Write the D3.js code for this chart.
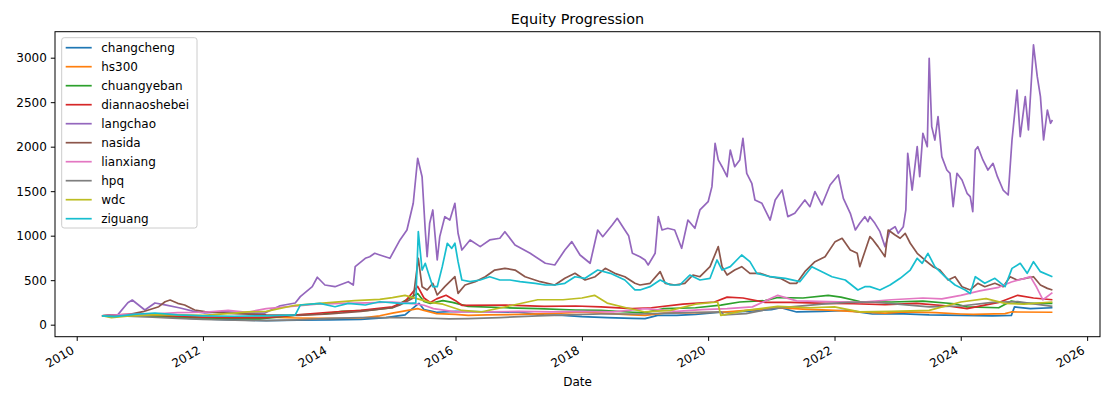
<!DOCTYPE html>
<html lang="en">
<head>
  <meta charset="utf-8">
  <title>Equity Progression</title>
  <script src="https://cdn.jsdelivr.net/npm/d3@7/dist/d3.min.js"></script>
  <style>
    body { margin: 0; background: #fff; }
    text { font-family: "DejaVu Sans", sans-serif; fill: #000; }
  </style>
</head>
<body>
<div id="chart"></div>
<script>
// series order as in the legend
const names = ["changcheng", "hs300", "chuangyeban", "diannaoshebei", "langchao",
               "nasida", "lianxiang", "hpq", "wdc", "ziguang"];
const colors = ["#1f77b4", "#ff7f0e", "#2ca02c", "#d62728", "#9467bd",
                "#8c564b", "#e377c2", "#7f7f7f", "#bcbd22", "#17becf"];
const yTicks = [0, 500, 1000, 1500, 2000, 2500, 3000];

// [decimal year, equity]
const changcheng = [[2010.40,100],[2010.6,95],[2010.9,100],[2011.2,95],[2011.5,85],[2011.8,70],[2012.0,65],[2012.5,55],[2013.0,45],[2013.5,50],[2014.0,55],[2014.5,60],[2014.9,80],[2015.2,110],[2015.35,200],[2015.42,240],[2015.5,170],[2015.7,140],[2016.0,150],[2016.5,143],[2017.0,140],[2017.4,110],[2017.7,105],[2018.0,90],[2018.4,80],[2018.8,72],[2019.0,68],[2019.2,105],[2019.5,105],[2019.8,115],[2020.2,140],[2020.6,150],[2021.0,170],[2021.15,190],[2021.4,143],[2021.8,150],[2022.2,160],[2022.6,120],[2023.0,125],[2023.5,110],[2024.0,105],[2024.5,100],[2024.8,105],[2024.85,200],[2025.1,180],[2025.45,190]];
const hs300 = [[2010.40,100],[2010.8,110],[2011.2,105],[2011.6,90],[2012.0,80],[2012.5,78],[2013.0,85],[2013.5,75],[2014.0,72],[2014.5,75],[2014.8,100],[2015.0,130],[2015.4,180],[2015.5,160],[2015.7,125],[2016.0,115],[2016.2,105],[2016.5,110],[2017.0,115],[2017.5,125],[2018.0,140],[2018.3,130],[2018.8,110],[2019.0,105],[2019.3,130],[2019.8,135],[2020.2,140],[2020.6,160],[2021.1,190],[2021.5,175],[2022.0,160],[2022.4,145],[2022.8,130],[2023.1,145],[2023.6,135],[2024.0,120],[2024.2,115],[2024.7,125],[2024.8,143],[2025.45,140]];
const chuangyeban = [[2010.40,100],[2010.8,110],[2011.2,95],[2011.6,85],[2012.0,75],[2012.5,70],[2012.9,65],[2013.5,110],[2013.9,120],[2014.2,150],[2014.6,160],[2015.0,190],[2015.4,350],[2015.5,260],[2015.6,240],[2015.8,270],[2015.95,250],[2016.2,205],[2016.8,190],[2017.3,180],[2017.9,165],[2018.3,160],[2018.8,140],[2019.0,135],[2019.3,180],[2019.8,190],[2020.2,220],[2020.5,255],[2020.9,270],[2021.1,305],[2021.5,300],[2021.9,330],[2022.1,310],[2022.4,260],[2022.9,255],[2023.4,265],[2023.9,235],[2024.1,200],[2024.6,190],[2024.8,265],[2025.0,240],[2025.45,240]];
const diannaoshebei = [[2010.40,100],[2010.8,115],[2011.2,110],[2011.6,95],[2012.0,85],[2012.5,80],[2013.0,80],[2013.5,110],[2014.0,140],[2014.5,160],[2015.0,200],[2015.2,260],[2015.4,430],[2015.5,300],[2015.6,250],[2015.7,290],[2015.85,330],[2016.0,270],[2016.1,218],[2016.8,220],[2017.4,205],[2017.9,210],[2018.3,200],[2018.8,180],[2019.1,190],[2019.6,230],[2020.1,255],[2020.3,310],[2020.55,300],[2020.9,250],[2021.3,250],[2021.9,240],[2022.3,235],[2022.8,225],[2023.3,240],[2023.8,210],[2024.1,180],[2024.6,250],[2024.9,330],[2025.15,300],[2025.45,280]];
const langchao = [[2010.40,100],[2010.65,110],[2010.81,247],[2010.88,277],[2011.08,165],[2011.24,244],[2011.40,222],[2011.64,187],[2011.87,146],[2012.03,131],[2012.35,146],[2012.67,131],[2012.98,131],[2013.22,213],[2013.46,244],[2013.54,315],[2013.73,427],[2013.81,533],[2013.93,446],[2014.09,427],[2014.30,483],[2014.38,446],[2014.41,652],[2014.57,746],[2014.64,764],[2014.72,802],[2014.80,783],[2014.96,746],[2015.12,952],[2015.23,1064],[2015.33,1364],[2015.40,1870],[2015.47,1663],[2015.52,1064],[2015.55,764],[2015.59,1139],[2015.64,1289],[2015.71,727],[2015.75,989],[2015.83,1213],[2015.91,1176],[2015.99,1364],[2016.04,1027],[2016.10,839],[2016.23,952],[2016.39,877],[2016.54,952],[2016.70,971],[2016.78,1045],[2016.94,896],[2017.18,802],[2017.42,690],[2017.57,671],[2017.73,839],[2017.84,933],[2017.97,783],[2018.13,690],[2018.25,1064],[2018.33,989],[2018.48,1120],[2018.56,1195],[2018.68,1064],[2018.74,1000],[2018.80,802],[2018.92,764],[2019.00,727],[2019.05,671],[2019.16,802],[2019.21,1214],[2019.27,1064],[2019.36,1083],[2019.47,1064],[2019.58,858],[2019.68,1176],[2019.79,1083],[2019.87,1289],[2020.00,1382],[2020.06,1551],[2020.11,2038],[2020.16,1851],[2020.22,1775],[2020.30,1663],[2020.35,1963],[2020.42,1775],[2020.50,1851],[2020.55,2094],[2020.61,1701],[2020.69,1589],[2020.74,1401],[2020.85,1364],[2020.98,1176],[2021.06,1401],[2021.17,1513],[2021.26,1214],[2021.37,1251],[2021.53,1401],[2021.61,1326],[2021.69,1495],[2021.80,1345],[2021.93,1570],[2022.06,1682],[2022.14,1420],[2022.25,1251],[2022.33,1064],[2022.40,1139],[2022.48,1214],[2022.53,1157],[2022.56,1214],[2022.64,1139],[2022.72,1045],[2022.80,877],[2022.88,1064],[2022.96,1101],[2023.01,1027],[2023.09,1101],[2023.13,1289],[2023.16,1926],[2023.23,1513],[2023.31,2000],[2023.35,1663],[2023.40,2150],[2023.47,2000],[2023.50,2993],[2023.54,2225],[2023.59,2075],[2023.64,2337],[2023.70,1888],[2023.78,1738],[2023.83,1701],[2023.88,1326],[2023.94,1701],[2024.02,1626],[2024.10,1476],[2024.15,1438],[2024.19,1270],[2024.23,1963],[2024.27,2000],[2024.35,1851],[2024.43,1738],[2024.51,1813],[2024.58,1663],[2024.67,1513],[2024.75,1457],[2024.81,2075],[2024.89,2637],[2024.94,2113],[2025.02,2562],[2025.07,2188],[2025.15,3143],[2025.21,2787],[2025.26,2562],[2025.31,2075],[2025.37,2412],[2025.42,2263],[2025.45,2300]];
const nasida = [[2010.40,100],[2010.8,110],[2011.05,146],[2011.3,202],[2011.4,258],[2011.48,277],[2011.6,240],[2011.71,221],[2011.87,165],[2012.03,146],[2012.5,125],[2013.0,110],[2013.5,105],[2014.0,120],[2014.5,150],[2015.0,190],[2015.12,221],[2015.33,300],[2015.41,746],[2015.47,427],[2015.55,390],[2015.64,465],[2015.71,334],[2015.83,427],[2015.99,539],[2016.04,352],[2016.15,446],[2016.31,483],[2016.47,539],[2016.62,614],[2016.78,633],[2016.94,614],[2017.10,539],[2017.34,483],[2017.57,446],[2017.73,521],[2017.89,577],[2018.05,502],[2018.21,539],[2018.37,633],[2018.52,577],[2018.68,539],[2018.84,465],[2018.92,446],[2019.08,465],[2019.24,596],[2019.32,465],[2019.47,446],[2019.63,465],[2019.76,558],[2019.87,539],[2020.03,652],[2020.16,877],[2020.22,652],[2020.30,558],[2020.42,614],[2020.53,652],[2020.66,577],[2020.82,577],[2020.98,539],[2021.14,521],[2021.29,465],[2021.40,465],[2021.53,596],[2021.69,708],[2021.85,764],[2022.01,933],[2022.12,971],[2022.25,839],[2022.36,802],[2022.40,652],[2022.48,820],[2022.56,989],[2022.61,952],[2022.69,877],[2022.80,764],[2022.85,1064],[2022.96,1008],[2023.04,971],[2023.12,1027],[2023.20,915],[2023.31,802],[2023.43,727],[2023.56,652],[2023.67,614],[2023.80,502],[2023.91,539],[2024.02,427],[2024.15,390],[2024.27,465],[2024.38,427],[2024.54,465],[2024.67,427],[2024.78,539],[2024.89,502],[2025.02,521],[2025.15,539],[2025.26,446],[2025.37,408],[2025.45,390]];
const lianxiang = [[2010.40,100],[2010.8,115],[2011.2,120],[2011.6,135],[2012.0,140],[2012.4,160],[2012.7,140],[2013.0,180],[2013.4,205],[2013.8,230],[2014.2,240],[2014.6,245],[2015.0,255],[2015.3,240],[2015.5,218],[2015.65,180],[2016.0,143],[2016.5,143],[2017.0,150],[2017.5,145],[2018.0,150],[2018.5,145],[2019.0,180],[2019.5,150],[2019.9,170],[2020.3,180],[2020.7,200],[2021.1,330],[2021.4,268],[2021.9,260],[2022.4,250],[2022.9,280],[2023.4,300],[2023.7,290],[2024.0,330],[2024.3,380],[2024.6,420],[2024.8,480],[2025.0,518],[2025.1,540],[2025.2,420],[2025.3,280],[2025.45,360]];
const hpq = [[2010.40,100],[2010.8,95],[2011.2,85],[2011.6,70],[2012.0,60],[2012.5,50],[2013.0,45],[2013.5,55],[2014.0,70],[2014.5,80],[2015.0,80],[2015.5,75],[2015.9,65],[2016.2,68],[2016.7,80],[2017.3,100],[2017.8,110],[2018.3,120],[2018.9,120],[2019.4,130],[2019.9,140],[2020.2,145],[2020.25,110],[2020.6,125],[2021.0,180],[2021.4,205],[2021.8,230],[2022.2,250],[2022.6,255],[2023.0,230],[2023.5,200],[2024.0,210],[2024.5,250],[2024.9,260],[2025.1,240],[2025.45,205]];
const wdc = [[2010.40,100],[2010.55,80],[2010.8,95],[2011.2,110],[2011.6,110],[2012.0,105],[2012.5,130],[2012.7,143],[2013.0,150],[2013.46,218],[2013.9,243],[2014.4,270],[2014.8,285],[2015.0,305],[2015.2,330],[2015.4,290],[2015.6,250],[2015.8,230],[2016.1,160],[2016.4,143],[2016.9,218],[2017.3,280],[2017.7,280],[2018.0,300],[2018.2,330],[2018.4,243],[2018.7,190],[2019.0,143],[2019.4,160],[2019.8,230],[2020.15,255],[2020.2,105],[2020.6,160],[2021.1,205],[2021.6,190],[2022.0,200],[2022.4,143],[2022.9,150],[2023.5,160],[2024.0,255],[2024.4,293],[2024.7,240],[2025.0,230],[2025.45,255]];
const ziguang = [[2010.40,100],[2010.6,90],[2010.9,115],[2011.24,131],[2011.6,110],[2012.0,100],[2012.5,95],[2013.0,100],[2013.46,110],[2013.54,221],[2013.85,240],[2014.09,202],[2014.30,240],[2014.57,221],[2014.80,258],[2015.12,240],[2015.30,240],[2015.37,244],[2015.41,1045],[2015.47,614],[2015.52,690],[2015.57,577],[2015.64,427],[2015.71,427],[2015.79,652],[2015.87,915],[2015.94,858],[2015.99,915],[2016.04,708],[2016.10,502],[2016.23,483],[2016.39,502],[2016.54,539],[2016.70,502],[2016.86,502],[2017.02,483],[2017.26,465],[2017.42,446],[2017.57,446],[2017.73,465],[2017.89,539],[2018.05,521],[2018.25,614],[2018.45,577],[2018.68,502],[2018.84,390],[2018.92,390],[2019.08,427],[2019.24,502],[2019.40,446],[2019.55,446],[2019.71,558],[2019.87,502],[2020.03,521],[2020.14,727],[2020.22,614],[2020.35,652],[2020.53,783],[2020.66,708],[2020.77,577],[2020.98,539],[2021.22,521],[2021.45,483],[2021.64,652],[2021.80,596],[2021.96,539],[2022.17,502],[2022.37,390],[2022.48,427],[2022.56,427],[2022.72,390],[2022.88,446],[2023.04,521],[2023.20,614],[2023.31,746],[2023.39,690],[2023.48,802],[2023.59,652],[2023.75,539],[2023.91,446],[2024.07,390],[2024.15,350],[2024.23,539],[2024.38,465],[2024.54,521],[2024.70,427],[2024.81,633],[2024.94,690],[2025.05,577],[2025.15,708],[2025.26,596],[2025.45,539]];

const allSeries = [changcheng, hs300, chuangyeban, diannaoshebei, langchao,
                   nasida, lianxiang, hpq, wdc, ziguang];

// decimal year -> Date
function toDate(yr) {
  var y = Math.floor(yr);
  var start = new Date(y, 0, 1).getTime(), end = new Date(y + 1, 0, 1).getTime();
  return new Date(start + (yr - y) * (end - start));
}

var width = 1113, height = 396;
var margin = {top: 31.7, right: 13, bottom: 59.3, left: 55};
var w = width - margin.left - margin.right,
    h = height - margin.top - margin.bottom;

var svg = d3.select("#chart").append("svg")
    .attr("width", width)
    .attr("height", height);

// matplotlib style 5% padding around the data extent
var x = d3.scaleTime()
    .domain([toDate(2009.656), toDate(2026.204)])
    .range([0, w]);
var y = d3.scaleLinear()
    .domain([-135, 3292])
    .range([h, 0]);

var g = svg.append("g")
    .attr("transform", "translate(" + margin.left + "," + margin.top + ")");

var line = d3.line()
    .x(function(d) { return x(toDate(d[0])); })
    .y(function(d) { return y(d[1]); });

allSeries.forEach(function(s, i) {
  g.append("path")
      .datum(s)
      .attr("fill", "none")
      .attr("stroke", colors[i])
      .attr("stroke-width", 1.7)
      .attr("stroke-linejoin", "round")
      .attr("d", line);
});

// y axis
var yAxis = g.append("g")
    .call(d3.axisLeft(y).tickValues(yTicks).tickFormat(d3.format("d")).tickSize(4.2).tickPadding(4));
yAxis.select(".domain").remove();
yAxis.selectAll("text").attr("font-size", 12).attr("font-family", "DejaVu Sans");
yAxis.selectAll("line").attr("stroke", "#000").attr("stroke-width", 1);

// x axis, labels rotated like autofmt_xdate
var xAxis = g.append("g")
    .attr("transform", "translate(0," + h + ")")
    .call(d3.axisBottom(x).ticks(d3.timeYear.every(2)).tickFormat(d3.timeFormat("%Y")).tickSize(4.2));
xAxis.select(".domain").remove();
xAxis.selectAll("line").attr("stroke", "#000").attr("stroke-width", 1);
xAxis.selectAll("text")
    .attr("font-size", 12)
    .attr("font-family", "DejaVu Sans")
    .attr("text-anchor", "end")
    .attr("x", 0).attr("y", 0).attr("dy", 0)
    .attr("transform", "translate(-2,16) rotate(-30)");

// frame
g.append("rect")
    .attr("width", w).attr("height", h)
    .attr("fill", "none")
    .attr("stroke", "#000")
    .attr("stroke-width", 1);

// title and axis label
svg.append("text")
    .attr("x", margin.left + w / 2)
    .attr("y", 24)
    .attr("text-anchor", "middle")
    .attr("font-size", 14.4)
    .text("Equity Progression");

svg.append("text")
    .attr("x", margin.left + w / 2)
    .attr("y", 386)
    .attr("text-anchor", "middle")
    .attr("font-size", 12)
    .text("Date");

// legend
var legend = g.append("g").attr("transform", "translate(6.7,6)");
legend.append("rect")
    .attr("width", 135.3).attr("height", 190.3)
    .attr("rx", 2.5)
    .attr("fill", "#fff").attr("fill-opacity", 0.8)
    .attr("stroke", "#cccccc").attr("stroke-width", 1);

var item = legend.selectAll(".item")
    .data(names)
    .enter().append("g")
    .attr("class", "item")
    .attr("transform", function(d, i) { return "translate(0," + (10 + i * 19) + ")"; });

item.append("line")
    .attr("x1", 4).attr("x2", 30)
    .attr("stroke", function(d, i) { return colors[i]; })
    .attr("stroke-width", 1.7);

item.append("text")
    .attr("x", 39.5)
    .attr("dy", "0.36em")
    .attr("font-size", 12)
    .text(function(d) { return d; });
</script>
</body>
</html>
